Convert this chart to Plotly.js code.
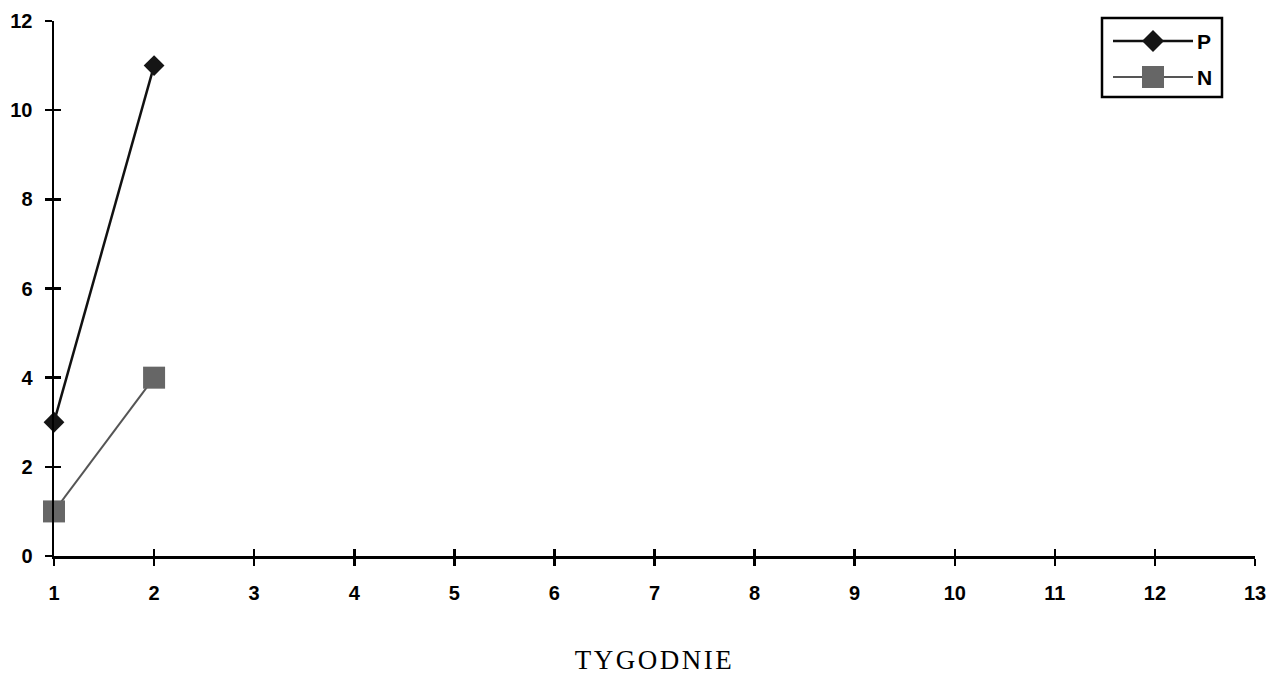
<!DOCTYPE html>
<html>
<head>
<meta charset="utf-8">
<script src="https://cdn.plot.ly/plotly-3.0.1.min.js"></script>
<style>
html,body{margin:0;padding:0;background:#fff;}
#chart{width:1270px;height:675px;}
.g-xtitle text{letter-spacing:2.5px;}
</style>
</head>
<body>
<div id="chart"></div>
<script>
const weeks = [1, 2];
const seriesP = [3, 11];
const seriesN = [1, 4];
const seriesNames = ['P', 'N'];
const xTicks = [1,2,3,4,5,6,7,8,9,10,11,12,13];
const yTicks = [0,2,4,6,8,10,12];

const colP = '#111111', colN = '#666666', colNLine = '#555555';

const traces = [
  {x: weeks, y: seriesP, name: seriesNames[0], type: 'scatter', mode: 'lines+markers', cliponaxis: false,
   line: {color: colP, width: 2.5},
   marker: {symbol: 'diamond', size: 16, color: '#151515', line: {width: 0}}},
  {x: weeks, y: seriesN, name: seriesNames[1], type: 'scatter', mode: 'lines+markers', cliponaxis: false,
   line: {color: colNLine, width: 2},
   marker: {symbol: 'square', size: 22, color: colN, line: {width: 0}}},
  {x: [], y: [], xaxis: 'x2', yaxis: 'y2', showlegend: false, hoverinfo: 'skip', type: 'scatter'}
];

// custom legend (pixel -> paper helpers)
const L = 54, R = 1255, T = 21, B = 556;
const px = v => (v - L) / (R - L);
const py = v => (B - v) / (B - T);
const shapes = [
  {type: 'rect', xref: 'paper', yref: 'paper', x0: px(1102), x1: px(1222), y0: py(97), y1: py(18),
   line: {color: '#000', width: 2.5}, fillcolor: '#fff', layer: 'above'},
  {type: 'line', xref: 'paper', yref: 'paper', x0: px(1113), x1: px(1193), y0: py(41), y1: py(41),
   line: {color: colP, width: 2.5}, layer: 'above'},
  {type: 'path', xref: 'paper', yref: 'paper', layer: 'above', fillcolor: '#151515', line: {width: 0},
   path: `M ${px(1142)} ${py(41)} L ${px(1153)} ${py(30)} L ${px(1164)} ${py(41)} L ${px(1153)} ${py(52)} Z`},
  {type: 'line', xref: 'paper', yref: 'paper', x0: px(1113), x1: px(1193), y0: py(77), y1: py(77),
   line: {color: colNLine, width: 2}, layer: 'above'},
  {type: 'rect', xref: 'paper', yref: 'paper', x0: px(1142), x1: px(1164), y0: py(88), y1: py(66),
   line: {width: 0}, fillcolor: colN, layer: 'above'}
];
const annotations = [
  {xref: 'paper', yref: 'paper', x: px(1195), y: py(41), text: seriesNames[0], showarrow: false,
   xanchor: 'left', yanchor: 'middle', font: {family: 'Liberation Sans, Arial, sans-serif', size: 21, color: '#000', weight: 'bold'}},
  {xref: 'paper', yref: 'paper', x: px(1195), y: py(77), text: seriesNames[1], showarrow: false,
   xanchor: 'left', yanchor: 'middle', font: {family: 'Liberation Sans, Arial, sans-serif', size: 21, color: '#000', weight: 'bold'}}
];

const tickFont = {family: 'Liberation Sans, Arial, sans-serif', size: 20, color: '#000', weight: 'bold'};
const layout = {
  width: 1270, height: 675,
  margin: {l: 54, r: 15, t: 21, b: 119},
  paper_bgcolor: '#fff', plot_bgcolor: '#fff',
  showlegend: false,
  shapes: shapes,
  annotations: annotations,
  xaxis: {range: [1, 13], tickvals: xTicks, ticktext: xTicks.map(String),
    showgrid: false, zeroline: false, showline: true, linecolor: '#000', linewidth: 2.5,
    ticks: 'outside', ticklen: 7, tickwidth: 2.5, tickcolor: '#000',
    tickfont: tickFont, ticklabelstandoff: 10,
    title: {text: 'TYGODNIE', font: {family: 'Liberation Serif, Times New Roman, serif', size: 27, color: '#000'}, standoff: 50}},
  yaxis: {range: [0, 12], tickvals: yTicks, ticktext: yTicks.map(String),
    showgrid: false, zeroline: false, showline: true, linecolor: '#000', linewidth: 2.5,
    ticks: 'outside', ticklen: 7, tickwidth: 2.5, tickcolor: '#000',
    tickfont: tickFont, ticklabelstandoff: 8},
  xaxis2: {range: [1, 13], overlaying: 'x', tickvals: xTicks, showticklabels: false,
    showgrid: false, zeroline: false, showline: false,
    ticks: 'inside', ticklen: 7, tickwidth: 2.5, tickcolor: '#000'},
  yaxis2: {range: [0, 12], overlaying: 'y', tickvals: yTicks, showticklabels: false,
    showgrid: false, zeroline: false, showline: false,
    ticks: 'inside', ticklen: 7, tickwidth: 2.5, tickcolor: '#000'}
};

Plotly.newPlot('chart', traces, layout, {staticPlot: true, displayModeBar: false});
</script>
</body>
</html>
